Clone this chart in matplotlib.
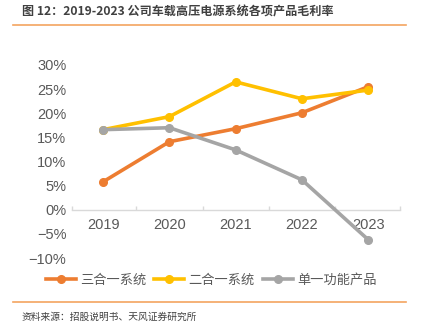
import matplotlib
matplotlib.use("Agg")
import matplotlib.pyplot as plt
from matplotlib.ticker import FuncFormatter, MultipleLocator, FixedLocator
from matplotlib.lines import Line2D

plt.rcParams['font.family'] = ['Noto Sans CJK SC', 'DejaVu Sans']

years = ["2019", "2020", "2021", "2022", "2023"]
three_in_one = [5.8, 14.1, 16.8, 20.1, 25.5]
two_in_one = [16.6, 19.3, 26.5, 23.0, 24.8]
single = [16.6, 17.0, 12.4, 6.2, -6.2]
series_names = ["三合一系统", "二合一系统", "单一功能产品"]
title = "图 12：2019-2023 公司车载高压电源系统各项产品毛利率"
source = "资料来源：招股说明书、天风证券研究所"

colors = ["#ED7D31", "#FFC000", "#A5A5A5"]

fig = plt.figure(figsize=(4.22, 3.26), dpi=100)
ax = fig.add_axes([72/422, 1-258/326, (400-72)/422, (258-65)/326])

x = list(range(len(years)))
for vals, c, name in zip([three_in_one, two_in_one, single], colors, series_names):
    ax.plot(x, [v/100 for v in vals], color=c, lw=2.6, marker='o', ms=5.5,
            label=name, solid_capstyle='round', zorder=3)

ax.set_ylim(-0.10, 0.30)
ax.set_xlim(-0.47, 4.48)
ax.yaxis.set_major_locator(MultipleLocator(0.05))
ax.yaxis.set_major_formatter(FuncFormatter(lambda v, p: f"{v*100:.0f}%".replace("-", "\u2212")))
ax.set_xticks(x)
ax.set_xticklabels(years)
ax.xaxis.set_minor_locator(FixedLocator([-0.47, 0.5, 1.5, 2.5, 3.5, 4.48]))
for s in ['top', 'right', 'left']:
    ax.spines[s].set_visible(False)
ax.spines['bottom'].set_position(('data', 0))
ax.spines['bottom'].set_color("#D9D9D9")
ax.spines['bottom'].set_linewidth(1)
ax.spines['bottom'].set_zorder(1)
ax.tick_params(axis='both', which='major', length=0, labelsize=10.5, colors="#595959")
ax.tick_params(axis='x', which='minor', length=3, direction='in', color="#D9D9D9", width=1)
ax.tick_params(axis='x', which='major', pad=6)
ax.tick_params(axis='y', pad=4)
for lab in ax.get_xticklabels() + ax.get_yticklabels():
    lab.set_fontfamily(['Liberation Sans', 'DejaVu Sans'])

handles = [Line2D([0], [0], color=c, lw=2.6, marker='o', ms=5.5) for c in colors]
fig.legend(handles, series_names, loc='center', bbox_to_anchor=(0.5, 1-280/326),
           ncol=3, frameon=False, fontsize=9.5, handlelength=2.3, columnspacing=0.6,
           handletextpad=0.3, labelcolor="#595959")

fig.text(22/422, 1-12/326, title, fontsize=8.7, fontweight='bold', color="#404040",
         va='center', ha='left')
fig.add_artist(Line2D([13/422, 406/422], [1-25/326, 1-25/326], color="#F4A460", lw=1.2))
fig.add_artist(Line2D([13/422, 406/422], [1-302/326, 1-302/326], color="#F4A460", lw=1.2))
fig.text(22/422, 1-317/326, source, fontsize=7, color="#404040", va='center', ha='left')

fig.savefig("out.png", dpi=100)
